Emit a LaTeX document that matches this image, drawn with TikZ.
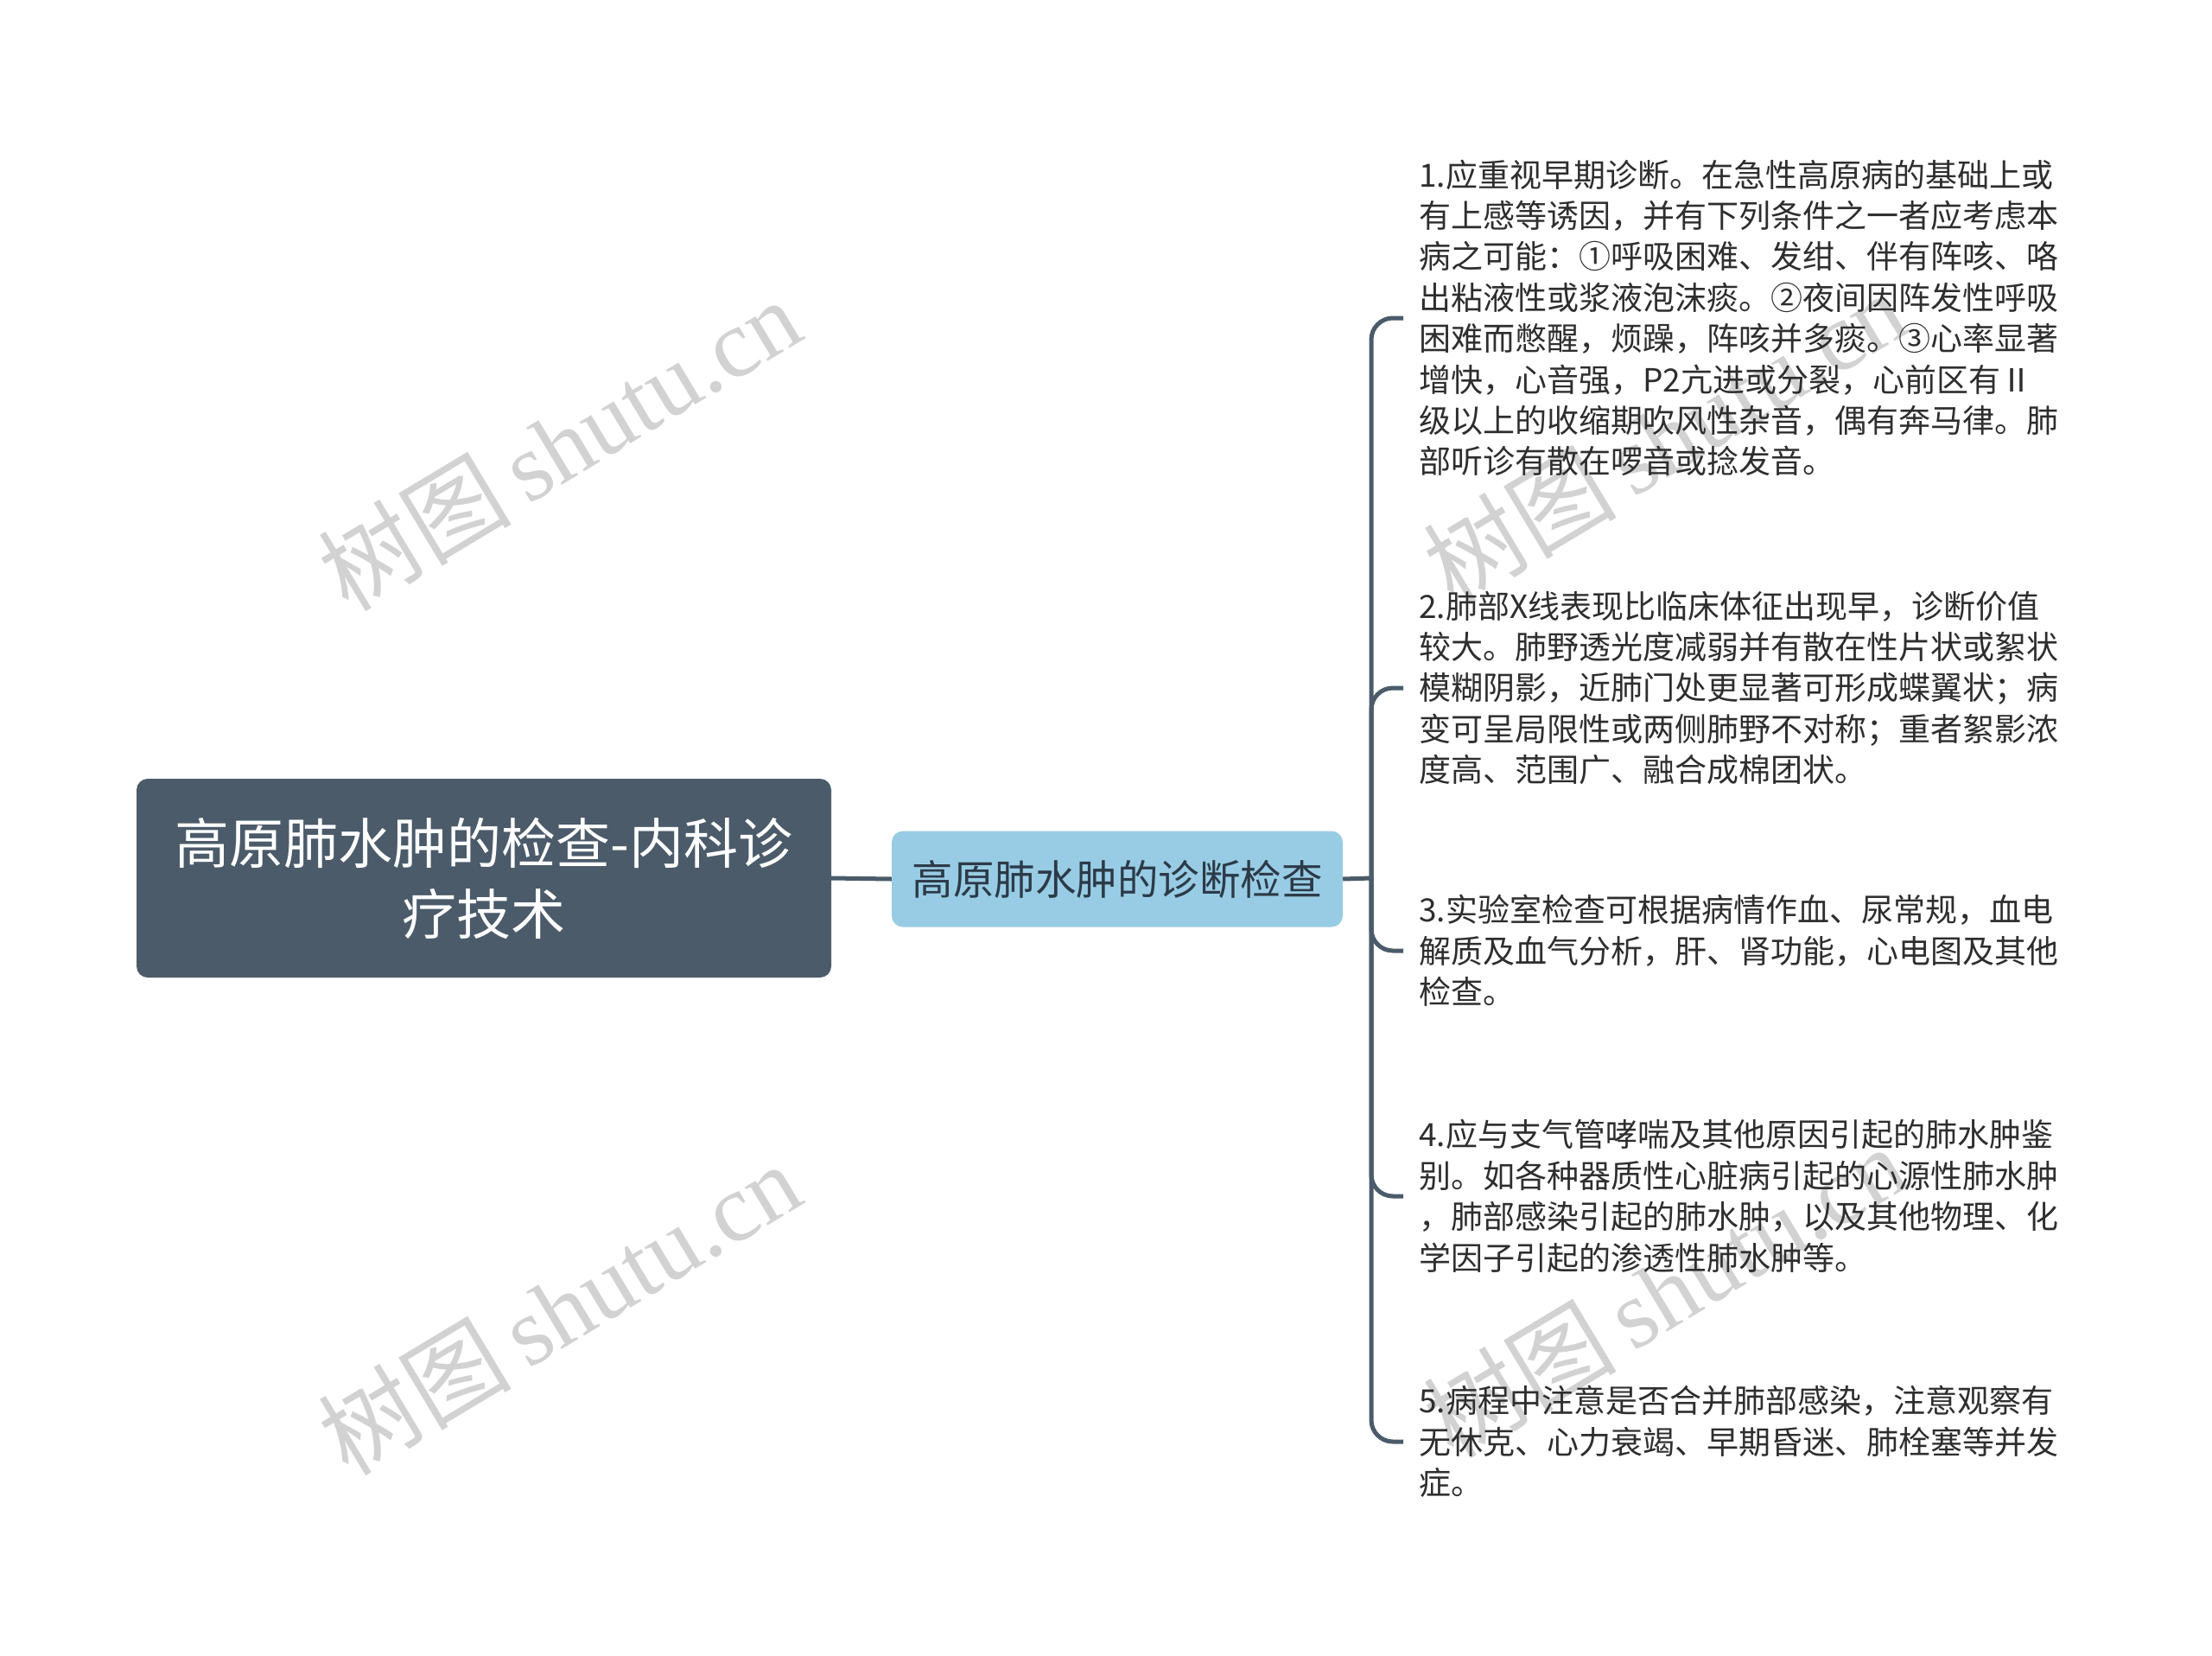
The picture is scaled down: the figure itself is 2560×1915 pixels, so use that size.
\documentclass[tikz,border=0pt]{standalone}
\usepackage{fontspec}
\setmainfont{Noto Sans CJK SC}
\newfontfamily\cjk{Noto Sans CJK SC}
\newfontfamily\wmserif{Liberation Serif}
\definecolor{rootfill}{HTML}{4B5B6A}
\definecolor{subfill}{HTML}{98CCE4}
\definecolor{subtext}{HTML}{2C3A48}
\definecolor{linecol}{HTML}{4B5B6A}
\definecolor{leaftext}{HTML}{2E2E2E}
\definecolor{wmcol}{HTML}{D2D2D2}
\tikzset{
  rootbox/.style={fill=rootfill, rounded corners=13pt, minimum width=804pt, minimum height=230pt, inner sep=0pt, align=center, text=white, font=\fontsize{63}{82}\selectfont},
  subbox/.style={fill=subfill, rounded corners=13pt, minimum width=522pt, minimum height=111pt, inner sep=0pt, align=center, text=subtext, font=\fontsize{47.5}{60}\selectfont},
  leafbox/.style={anchor=west, inner xsep=18pt, inner ysep=0pt, align=left, text=leaftext, font=\fontsize{37}{47.4}\selectfont},
  conn/.style={draw=linecol, line width=5pt},
  wmark/.style={text=wmcol, rotate=31, inner sep=0pt, font=\fontsize{112}{112}\selectfont}
}
\begin{document}
\begin{tikzpicture}[x=1pt,y=-1pt]
\useasboundingbox (0,0) rectangle (2560,1915);
\fill[white] (0,0) rectangle (2560,1915);
% watermarks
\node[wmark] (wm1) at (647,514) {\cjk 树图\,\wmserif shutu.cn};
\node[wmark] (wm2) at (647,1514) {\cjk 树图\,\wmserif shutu.cn};
\node[wmark] (wm3) at (1926,506) {\cjk 树图\,\wmserif shutu.cn};
\node[wmark] (wm4) at (1926,1494) {\cjk 树图\,\wmserif shutu.cn};
% nodes
\node[rootbox] (root) at (560,1016) {高原肺水肿的检查-内科诊\\疗技术};
\node[subbox] (sub) at (1293,1017) {高原肺水肿的诊断检查};
\node[leafbox] (l1) at (1624,368) {1.应重视早期诊断。在急性高原病的基础上或\\有上感等诱因，并有下列条件之一者应考虑本\\病之可能：①呼吸困难、发绀、伴有阵咳、咯\\出粘液性或浆液泡沫痰。②夜间因阵发性呼吸\\困难而憋醒，烦躁，阵咳并多痰。③心率显著\\增快，心音强，P2亢进或分裂，心前区有Ⅱ\\级以上的收缩期吹风性杂音，偶有奔马律。肺\\部听诊有散在啰音或捻发音。};
\node[leafbox] (l2) at (1624,796) {2.肺部X线表现比临床体征出现早，诊断价值\\较大。肺野透光度减弱并有散在性片状或絮状\\模糊阴影，近肺门处更显著可形成蝶翼状；病\\变可呈局限性或两侧肺野不对称；重者絮影浓\\度高、范围广、融合成棉团状。};
\node[leafbox] (l3) at (1624,1100) {3.实验室检查可根据病情作血、尿常规，血电\\解质及血气分析，肝、肾功能，心电图及其他\\检查。};
\node[leafbox] (l4) at (1624,1384) {4.应与支气管哮喘及其他原因引起的肺水肿鉴\\别。如各种器质性心脏病引起的心源性肺水肿\\，肺部感染引起的肺水肿，以及其他物理、化\\学因子引起的渗透性肺水肿等。};
\node[leafbox] (l5) at (1624,1668) {5.病程中注意是否合并肺部感染，注意观察有\\无休克、心力衰竭、早期昏迷、肺栓塞等并发\\症。};
% connectors
\coordinate (trunk) at (1587,1016);
\draw[conn] (root.east) -- (sub.west);
\draw[conn] (sub.east) -- (trunk);
\foreach \n in {l1,l2,l3,l4,l5}{
  \draw[conn, rounded corners=25pt] (trunk) -- (trunk |- \n.west) -- (\n.west);
}
\end{tikzpicture}
\end{document}
